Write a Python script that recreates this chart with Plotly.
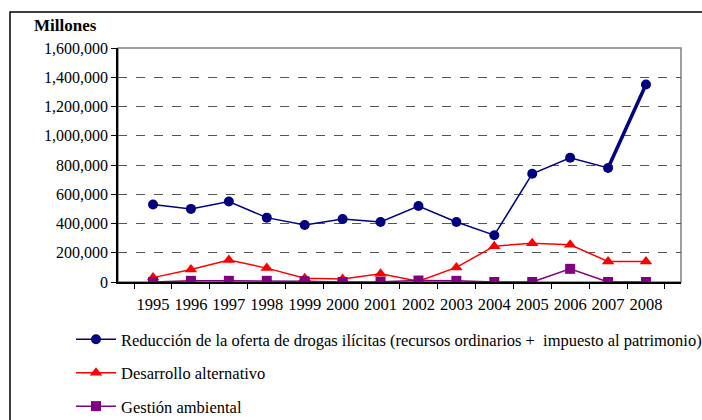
import plotly.graph_objects as go

years = ["1995", "1996", "1997", "1998", "1999", "2000", "2001", "2002", "2003", "2004", "2005", "2006", "2007", "2008"]
reduccion = [530000, 500000, 550000, 440000, 390000, 430000, 410000, 520000, 410000, 320000, 740000, 850000, 780000, 1350000]
desarrollo = [30000, 85000, 150000, 95000, 25000, 20000, 57000, 5000, 100000, 245000, 265000, 255000, 140000, 140000]
gestion = [0, 8000, 8000, 8000, 5000, 0, 2000, 10000, 8000, 0, 0, 90000, 0, 0]

names = [
    "Reducción de la oferta de drogas ilícitas (recursos ordinarios +  impuesto al patrimonio)",
    "Desarrollo alternativo",
    "Gestión ambiental",
]
y_ticks = [0, 200000, 400000, 600000, 800000, 1000000, 1200000, 1400000, 1600000]

FONT = "'Liberation Serif', 'Times New Roman', Times, serif"
NAVY, RED, PURPLE = "#000080", "#FF0000", "#800080"

fig = go.Figure()
fig.add_trace(go.Scatter(x=years, y=reduccion, name=names[0], mode="lines+markers",
                         line=dict(color=NAVY, width=1.5),
                         marker=dict(symbol="circle", size=10, color=NAVY),
                         legendgroup="a"))
fig.add_trace(go.Scatter(x=years[-2:], y=reduccion[-2:], mode="lines", showlegend=False,
                         line=dict(color=NAVY, width=3.5), hoverinfo="skip"))
fig.add_trace(go.Scatter(x=years, y=desarrollo, name=names[1], mode="lines+markers",
                         line=dict(color=RED, width=1.5),
                         marker=dict(symbol="triangle-up", size=11, color=RED),
                         legendgroup="b"))
fig.add_trace(go.Scatter(x=years, y=gestion, name=names[2], mode="lines+markers",
                         line=dict(color=PURPLE, width=1.5),
                         marker=dict(symbol="square", size=10, color=PURPLE),
                         legendgroup="c"))

L, R, T, B = 118, 21, 48, 138
W, H = 702, 420
pw, ph = W - L - R, H - T - B

def px2x(p):
    return (p - L) / pw

def px2y(p):
    return (H - B - p) / ph

fig.update_layout(
    width=W, height=H,
    margin=dict(l=L, r=R, t=T, b=B, autoexpand=False),
    paper_bgcolor="white", plot_bgcolor="white",
    font=dict(family=FONT, size=16, color="black"),
    showlegend=True,
    legend=dict(x=px2x(71), xanchor="left", y=px2y(322), yanchor="top",
                orientation="v", tracegroupgap=9, itemwidth=40,
                font=dict(family=FONT, size=16.5, color="black"),
                bgcolor="rgba(0,0,0,0)"),
    xaxis=dict(type="category", showline=True, linecolor="black", linewidth=1.5,
               ticks="outside", tickson="boundaries", ticklen=5, tickcolor="black",
               showgrid=False, tickangle=0, ticklabelstandoff=6,
               tickfont=dict(family=FONT, size=16.5), fixedrange=True),
    yaxis=dict(range=[0, 1600000], tickvals=y_ticks, tickformat=",",
               showline=True, linecolor="black", linewidth=1.5,
               ticks="outside", ticklen=5, tickcolor="black",
               showgrid=True, gridcolor="#555555", gridwidth=1, griddash="dash",
               zeroline=False, tickfont=dict(family=FONT, size=16)),
    shapes=[
        dict(type="rect", xref="paper", yref="paper", x0=0, y0=0, x1=1, y1=1,
             line=dict(color="#808080", width=1.5), layer="below"),
        dict(type="rect", xref="paper", yref="paper",
             x0=px2x(10), y0=px2y(460), x1=px2x(760), y1=px2y(12),
             line=dict(color="black", width=1.5), layer="below"),
    ],
    annotations=[
        dict(text="<b>Millones</b>", xref="paper", yref="paper",
             x=px2x(32), y=px2y(26), xanchor="left", yanchor="middle",
             showarrow=False, font=dict(family=FONT, size=17, color="black")),
    ],
)

fig.write_html(
    "out.html",
    config={"displayModeBar": False},
    post_script="document.body.style.margin='0';document.body.style.padding='0';document.body.style.overflow='hidden';",
)
